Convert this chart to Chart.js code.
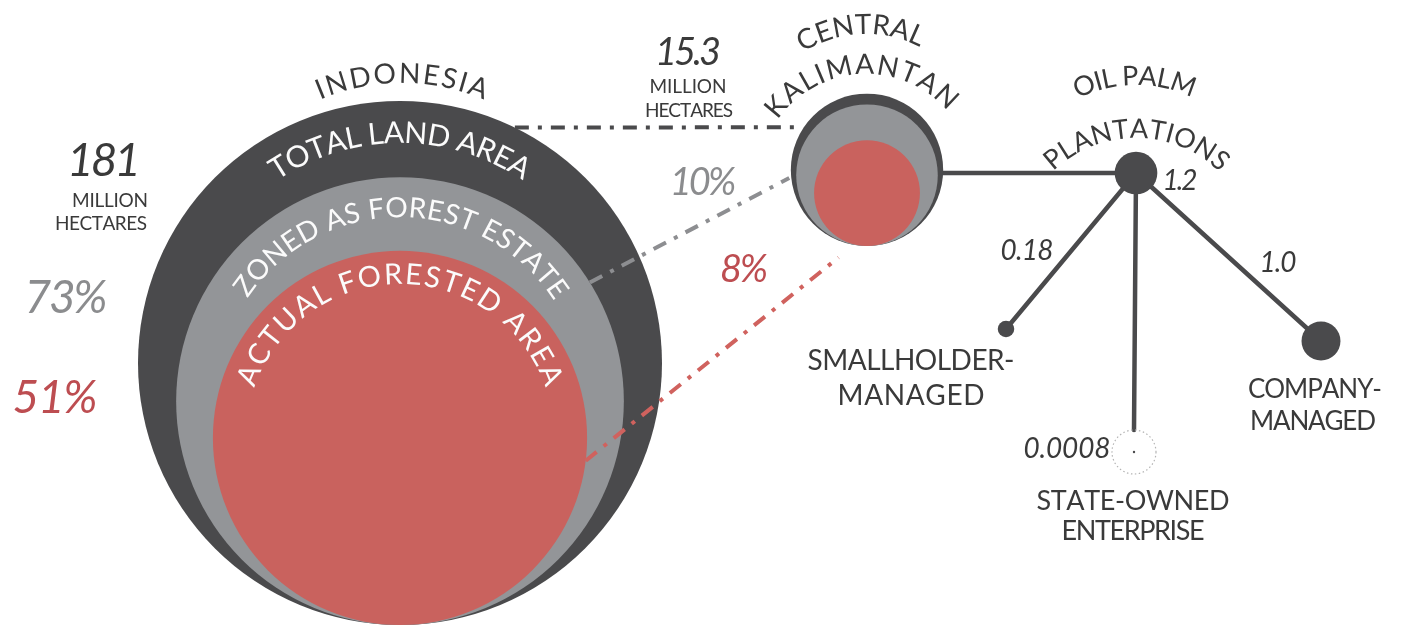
<!DOCTYPE html>
<html>
<head>
<meta charset="utf-8">
<script src="https://cdn.jsdelivr.net/npm/chart.js@4.4.1/dist/chart.umd.min.js"></script>
<style>
html,body{margin:0;padding:0;background:#ffffff;overflow:hidden}
#wrap{width:1407px;height:626px;position:relative}
</style>
</head>
<body>
<div id="wrap"><canvas id="c"></canvas></div>
<script>
// ================= DATA =================
const regions = ['INDONESIA', 'CENTRAL KALIMANTAN'];
const landAreaMha = [181, 15.3];        // total land area, million hectares
const forestEstatePct = [73, 10];       // Indonesia: % of its land | C. Kalimantan: % of Indonesia's forest estate
const forestedPct = [51, 8];            // Indonesia: % of its land | C. Kalimantan: % of Indonesia's forested area
const ringNames = ['TOTAL LAND AREA', 'ZONED AS FOREST ESTATE', 'ACTUAL FORESTED AREA'];
const plantationNames = ['OIL PALM PLANTATIONS', 'SMALLHOLDER-MANAGED', 'STATE-OWNED ENTERPRISE', 'COMPANY-MANAGED'];
const plantationMha = [1.2, 0.18, 0.0008, 1.0];
const plantationValueLabels = ['1.2', '0.18', '0.0008', '1.0'];

// ================= LAYOUT / STYLE (not data) =================
const W = 1407, H = 626;
const INDONESIA_RADIUS_PX = 262;
const COLORS = {
  dark: '#4a4a4c', gray: '#939598', red: '#c9625e',
  text: '#3a3a3a', grayText: '#8b8c8e', redText: '#bd4d51', white: '#fbfbfb',
  grayLine: '#8d8e91', redLine: '#d0625e'
};
const LAYOUT = {
  indoBase: {x: 400, y: 625},
  kalBase: {x: 867, y: 246},
  nodes: [{x: 1136, y: 173}, {x: 1006, y: 329}, {x: 1134, y: 452}, {x: 1321, y: 341}],
  stateRing: 22
};
const FONT = "Lato, 'Open Sans', 'DejaVu Sans', sans-serif";

// ================= DERIVED =================
const radius = a => INDONESIA_RADIUS_PX * Math.sqrt(a / landAreaMha[0]);
const indoEstate = landAreaMha[0] * forestEstatePct[0] / 100;
const indoForest = landAreaMha[0] * forestedPct[0] / 100;
const kalEstate = indoEstate * forestEstatePct[1] / 100;
const kalForest = indoForest * forestedPct[1] / 100;

function nested(base, areas) {
  return areas.map(a => { const r = radius(a); return {x: base.x, y: base.y - r, r: r}; });
}
const indo = nested(LAYOUT.indoBase, [landAreaMha[0], indoEstate, indoForest]);
const kal = nested(LAYOUT.kalBase, [landAreaMha[1], kalEstate, kalForest]);
const plant = plantationMha.map((v, i) => ({x: LAYOUT.nodes[i].x, y: LAYOUT.nodes[i].y, r: Math.max(radius(v), 1.2)}));
const ringColors = [COLORS.dark, COLORS.gray, COLORS.red];

function onCircle(c, deg, extra) {
  const a = deg * Math.PI / 180, rr = c.r + (extra || 0);
  return {x: c.x + rr * Math.cos(a), y: c.y + rr * Math.sin(a)};
}
const connectors = [
  {from: onCircle(indo[0], -64), to: onCircle(kal[0], 212.5, 3), color: COLORS.dark},
  {from: onCircle(indo[1], -32), to: onCircle(kal[0], 174, 2), color: COLORS.grayLine},
  {from: onCircle(indo[2], 7), to: onCircle(kal[0], 108, 16), color: COLORS.redLine}
];
const hub = plant[0];
const tree = [
  [{x: kal[0].x, y: hub.y}, {x: hub.x, y: hub.y}],
  [{x: hub.x, y: hub.y}, {x: plant[1].x, y: plant[1].y}],
  [{x: hub.x, y: hub.y}, {x: plant[2].x, y: plant[2].y - LAYOUT.stateRing}],
  [{x: hub.x, y: hub.y}, {x: plant[3].x, y: plant[3].y}]
];

// ================= TEXT HELPERS =================
function spacedText(ctx, text, x, y, size, opts) {
  ctx.save();
  ctx.font = (opts.italic ? 'italic ' : '') + (opts.weight || 400) + ' ' + size + 'px ' + FONT;
  ctx.fillStyle = opts.color || COLORS.text;
  ctx.textAlign = 'left';
  ctx.textBaseline = 'alphabetic';
  const chars = [...text];
  const ws = chars.map(ch => ctx.measureText(ch).width);
  const sum = ws.reduce((a, b) => a + b, 0);
  let sp = chars.length > 1 ? (opts.width - sum) / (chars.length - 1) : 0;
  sp = Math.max(-3, Math.min(10, sp));
  const total = sum + sp * (chars.length - 1);
  let sx = opts.align === 'right' ? x - total : (opts.align === 'left' ? x : x - total / 2);
  chars.forEach((ch, i) => { ctx.fillText(ch, sx, y); sx += ws[i] + sp; });
  ctx.restore();
}
function arcText(ctx, text, cx, cy, r, centerDeg, spanDeg, size, color) {
  ctx.save();
  ctx.font = '400 ' + size + 'px ' + FONT;
  ctx.fillStyle = color;
  ctx.textAlign = 'center';
  ctx.textBaseline = 'alphabetic';
  const chars = [...text];
  const ws = chars.map(ch => ctx.measureText(ch).width);
  const sum = ws.reduce((a, b) => a + b, 0);
  const target = spanDeg * Math.PI / 180 * r;
  const sp = chars.length > 1 ? (target - sum) / (chars.length - 1) : 0;
  const total = sum + sp * (chars.length - 1);
  let a = centerDeg * Math.PI / 180 - total / (2 * r);
  chars.forEach((ch, i) => {
    const am = a + ws[i] / (2 * r);
    ctx.save();
    ctx.translate(cx + r * Math.cos(am), cy + r * Math.sin(am));
    ctx.rotate(am + Math.PI / 2);
    ctx.fillText(ch, 0, 0);
    ctx.restore();
    a += (ws[i] + sp) / r;
  });
  ctx.restore();
}

// ================= TEXT SPEC =================
const kalWords = regions[1].split(' ');
const opWords = ['OIL PALM', 'PLANTATIONS'];
const ARC_TEXTS = [
  {t: regions[0], c: {x: 402, y: 293}, r: 210, mid: -90, span: 46, size: 28, color: COLORS.text},
  {t: ringNames[0], c: {x: indo[0].x, y: indo[0].y}, r: 220, mid: -90, span: 68, size: 30, color: COLORS.white},
  {t: ringNames[1], c: {x: indo[1].x, y: indo[1].y}, r: 184, mid: -89.5, span: 113, size: 28, color: COLORS.white},
  {t: ringNames[2], c: {x: indo[2].x, y: indo[2].y}, r: 154, mid: -90, span: 142, size: 29, color: COLORS.white},
  {t: kalWords[0], c: {x: 866, y: 151}, r: 117, mid: -92.6, span: 60, size: 28, color: COLORS.text},
  {t: kalWords[1], c: {x: 866, y: 182}, r: 108, mid: -93, span: 104, size: 28, color: COLORS.text},
  {t: opWords[0], c: {x: 1136, y: 215}, r: 130, mid: -90.6, span: 52, size: 27, color: COLORS.text},
  {t: opWords[1], c: {x: 1136, y: 258}, r: 120, mid: -89.7, span: 88, size: 27, color: COLORS.text}
];
const pct = v => v + '%';
const FLAT_TEXTS = [
  {t: String(landAreaMha[0]), x: 141, y: 176, size: 46, italic: true, w: 62, align: 'right'},
  {t: 'MILLION', x: 148, y: 207, size: 19, w: 76, align: 'right'},
  {t: 'HECTARES', x: 147, y: 230, size: 19, w: 92, align: 'right'},
  {t: pct(forestEstatePct[0]), x: 66, y: 313, size: 46, italic: true, w: 83, color: COLORS.grayText},
  {t: pct(forestedPct[0]), x: 55, y: 413, size: 46, italic: true, w: 85, color: COLORS.redText},
  {t: String(landAreaMha[1]), x: 688, y: 65, size: 38, italic: true, w: 65},
  {t: 'MILLION', x: 688, y: 93, size: 19, w: 77},
  {t: 'HECTARES', x: 689, y: 117, size: 19, w: 88},
  {t: pct(forestEstatePct[1]), x: 703, y: 195, size: 38, italic: true, w: 61, color: COLORS.grayText},
  {t: pct(forestedPct[1]), x: 744, y: 282, size: 38, italic: true, w: 48, color: COLORS.redText},
  {t: plantationValueLabels[0], x: 1180, y: 190, size: 28, italic: true, w: 35},
  {t: plantationValueLabels[1], x: 1027, y: 260, size: 28, italic: true, w: 53},
  {t: plantationValueLabels[2], x: 1067, y: 458, size: 28, italic: true, w: 87},
  {t: plantationValueLabels[3], x: 1278, y: 272, size: 28, italic: true, w: 37},
  {t: plantationNames[1].split('-')[0] + '-', x: 911, y: 370, size: 28, w: 207},
  {t: plantationNames[1].split('-')[1], x: 911, y: 405, size: 28, w: 147},
  {t: plantationNames[3].split('-')[0] + '-', x: 1315, y: 398, size: 26, w: 134},
  {t: plantationNames[3].split('-')[1], x: 1313, y: 430, size: 26, w: 126},
  {t: plantationNames[2].split(' ')[0], x: 1133, y: 510, size: 27, w: 193},
  {t: plantationNames[2].split(' ')[1], x: 1133, y: 540, size: 27, w: 143}
];

// ================= PLUGIN =================
const annotate = {
  id: 'annotate',
  afterDatasetsDraw(chart) {
    const ctx = chart.ctx, sx = chart.scales.x, sy = chart.scales.y;
    const px = v => sx.getPixelForValue(v), py = v => sy.getPixelForValue(v);
    ctx.save();
    ctx.setLineDash([1.5, 2.5]);
    ctx.strokeStyle = '#b4b4b4';
    ctx.lineWidth = 1.2;
    ctx.beginPath();
    ctx.arc(px(plant[2].x), py(plant[2].y), LAYOUT.stateRing, 0, Math.PI * 2);
    ctx.stroke();
    ctx.restore();
    ARC_TEXTS.forEach(a => arcText(ctx, a.t, px(a.c.x), py(a.c.y), a.r, a.mid, a.span, a.size, a.color));
    FLAT_TEXTS.forEach(f => spacedText(ctx, f.t, px(f.x), py(f.y), f.size, {italic: f.italic, width: f.w, align: f.align || 'center', color: f.color || COLORS.text}));
  }
};

// ================= CHART =================
const bubbleData = [...indo, ...kal, ...plant];
const bubbleColors = [...ringColors, ...ringColors, COLORS.dark, COLORS.dark, COLORS.dark, COLORS.dark];

new Chart(document.getElementById('c'), {
  type: 'bubble',
  data: {
    datasets: [
      ...connectors.map(c => ({
        type: 'line', data: [c.from, c.to], borderColor: c.color, borderWidth: 4,
        borderDash: [14, 9, 4, 9], borderCapStyle: 'butt', pointRadius: 0, fill: false,
        tension: 0, order: 0, clip: false
      })),
      {
        type: 'bubble', data: bubbleData, backgroundColor: bubbleColors, borderWidth: 0,
        hoverRadius: 0, order: 1, clip: false
      },
      ...tree.map(seg => ({
        type: 'line', data: seg, borderColor: COLORS.dark, borderWidth: 4.5,
        borderCapStyle: 'round', pointRadius: 0, fill: false, tension: 0, order: 2, clip: false
      }))
    ]
  },
  options: {
    responsive: true,
    maintainAspectRatio: false,
    animation: false,
    events: [],
    layout: {padding: 0, autoPadding: false},
    plugins: {legend: {display: false}, tooltip: {enabled: false}},
    scales: {
      x: {type: 'linear', min: 0, max: W, display: false},
      y: {type: 'linear', min: 0, max: H, reverse: true, display: false}
    }
  },
  plugins: [annotate]
});
</script>
</body>
</html>
